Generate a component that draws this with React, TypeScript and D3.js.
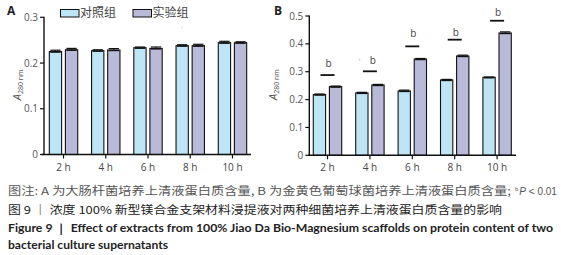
import React from "react";
import * as d3 from "d3";

const categories = ["2 h", "4 h", "6 h", "8 h", "10 h"];
const seriesNames = ["对照组", "实验组"];
const aControl = [0.225, 0.227, 0.2335, 0.238, 0.2445];
const aExp = [0.229, 0.2285, 0.232, 0.238, 0.2445];
const aControlErr = [0.003, 0.002, 0.0015, 0.002, 0.003];
const aExpErr = [0.003, 0.003, 0.003, 0.003, 0.002];
const bControl = [0.218, 0.224, 0.231, 0.2705, 0.28];
const bExp = [0.2465, 0.2525, 0.3455, 0.3565, 0.439];
const bControlErr = [0.002, 0.002, 0.003, 0.002, 0.001];
const bExpErr = [0.002, 0.002, 0.002, 0.003, 0.004];
const sigLine = [0.288, 0.3015, 0.391, 0.415, 0.483];
const sigLabel = [0.33, 0.3395, 0.438, 0.4415, 0.512];
const sigText = ["b", "b", "b", "b", "b"];
const aTicks = [0, 0.1, 0.2, 0.3];
const bTicks = [0, 0.1, 0.2, 0.3, 0.4, 0.5];

const colors = ["#bde5f6", "#b9b9d9"];
const fontSans = "'Open Sans', 'Noto Sans', sans-serif";
const fontCJK = "'Noto Sans CJK SC', sans-serif";

type PanelProps = {
  x0: number; x1: number; yTop: number; yBot: number; yMax: number;
  ticks: number[]; ctrl: number[]; exp: number[]; ctrlErr: number[]; expErr: number[];
  axisX: number; axisStart: number; axisEnd: number; labelX: number; sig?: boolean;
};

function Panel(p: PanelProps) {
  const x = d3.scaleBand<string>().domain(categories).range([p.x0, p.x1]).paddingInner(0).paddingOuter(0);
  const sub = d3.scaleBand<string>().domain(seriesNames).range([-14.2, 14.2]).paddingInner(0.236).paddingOuter(0);
  const y = d3.scaleLinear().domain([0, p.yMax]).range([p.yBot, p.yTop]);
  const fmt = (v: number) => (v === 0 ? "0" : d3.format(".1f")(v));
  const series = [
    { vals: p.ctrl, errs: p.ctrlErr },
    { vals: p.exp, errs: p.expErr },
  ];
  return (
    <g>
      {categories.map((c, i) => {
        const cx = (x(c) as number) + x.bandwidth() / 2;
        return (
          <g key={c}>
            {series.map((s, k) => {
              const bx = cx + (sub(seriesNames[k]) as number);
              const bw = sub.bandwidth();
              const top = y(s.vals[i]);
              const etop = y(s.vals[i] + s.errs[i]);
              return (
                <g key={k}>
                  <rect x={bx} y={top} width={bw} height={y(0) - top} fill={colors[k]} stroke="#111" strokeWidth={1.1} />
                  <line x1={bx + bw / 2} x2={bx + bw / 2} y1={top} y2={etop} stroke="#111" strokeWidth={1} />
                  <line x1={bx + 1} x2={bx + bw - 1} y1={etop} y2={etop} stroke="#111" strokeWidth={1.2} />
                  <line x1={bx + 1} x2={bx + bw - 1} y1={top + 0.6} y2={top + 0.6} stroke="#111" strokeWidth={1.2} />
                </g>
              );
            })}
            <line x1={cx} x2={cx} y1={y(0)} y2={y(0) + 4} stroke="#111" strokeWidth={1.2} />
            <text x={cx} y={y(0) + 16} textAnchor="middle" fontSize={10} fill="#444" fontFamily={fontSans}>{c}</text>
            {p.sig && (
              <g>
                <line x1={cx - 7} x2={cx + 7} y1={y(sigLine[i])} y2={y(sigLine[i])} stroke="#111" strokeWidth={1.8} />
                <text x={cx + (i === 1 ? 3 : 1)} y={y(sigLabel[i]) + 3.5} textAnchor="middle" fontSize={10} fill="#444" fontFamily={fontSans}>{sigText[i]}</text>
              </g>
            )}
          </g>
        );
      })}
      <line x1={p.axisStart} x2={p.axisEnd} y1={y(0)} y2={y(0)} stroke="#111" strokeWidth={1.4} />
      <line x1={p.axisX} x2={p.axisX} y1={y(p.yMax) - 0.5} y2={y(0)} stroke="#111" strokeWidth={1.4} />
      {p.ticks.map((t) => (
        <g key={t}>
          <line x1={p.axisX - 4} x2={p.axisX} y1={y(t)} y2={y(t)} stroke="#111" strokeWidth={1.2} />
          <text x={p.axisX - 6} y={y(t) + 3.5} textAnchor="end" fontSize={10} fill="#555" fontFamily={fontSans}>{fmt(t)}</text>
        </g>
      ))}
      <text transform={`translate(${p.labelX},${(p.yTop + p.yBot) / 2 - 1}) rotate(-90)`} textAnchor="middle" fill="#555" fontFamily={fontSans}>
        <tspan fontSize={11} fontStyle="italic">A</tspan>
        <tspan fontSize={7} dy={2}>280 nm</tspan>
      </text>
    </g>
  );
}

export default function App() {
  return (
    <div style={{ position: "absolute", left: 0, top: 0 }}>
      <svg width={561} height={255} style={{ display: "block", background: "#fff" }}>
        <text x={7} y={15} fontSize={12} fontWeight="bold" fill="#222" fontFamily={fontSans}>A</text>
        <text x={274} y={15} fontSize={12} fontWeight="bold" fill="#222" fontFamily={fontSans}>B</text>
        {/* legend */}
        <rect x={60.5} y={9.5} width={18.5} height={7.5} fill={colors[0]} stroke="#111" strokeWidth={1} />
        <text x={80} y={17} fontSize={12} fill="#444" fontFamily={fontCJK}>{seriesNames[0]}</text>
        <rect x={133} y={9.5} width={18.5} height={7.5} fill={colors[1]} stroke="#111" strokeWidth={1} />
        <text x={152.5} y={17} fontSize={12} fill="#444" fontFamily={fontCJK}>{seriesNames[1]}</text>
        <Panel x0={42.4} x1={253.6} yTop={17.3} yBot={154.5} yMax={0.3} ticks={aTicks}
          ctrl={aControl} exp={aExp} ctrlErr={aControlErr} expErr={aExpErr}
          axisX={44} axisStart={41.5} axisEnd={251} labelX={21} />
        <Panel x0={306.3} x1={518.3} yTop={16} yBot={155.3} yMax={0.5} ticks={bTicks}
          ctrl={bControl} exp={bExp} ctrlErr={bControlErr} expErr={bExpErr}
          axisX={309.3} axisStart={308} axisEnd={516} labelX={277} sig />
        <text x={181} y={30} fontSize={6} fill="#666">·</text>
        <text x={359} y={63} fontSize={7} fill="#666">'</text>
        {/* caption */}
        <text x={8} y={195} fontSize={11} fill="#555" fontFamily={fontCJK} textLength={503} lengthAdjust="spacingAndGlyphs">
          图注: A 为大肠杆菌培养上清液蛋白质含量, B 为金黄色葡萄球菌培养上清液蛋白质含量;
        </text>
        <text x={515} y={195} fontSize={10} fill="#555" fontFamily="'Liberation Sans', sans-serif">
          <tspan fontSize={6} dy={-4}>b</tspan>
          <tspan fontStyle="italic" dy={4} dx={1}>P</tspan>
          <tspan> &lt; 0.01</tspan>
        </text>
        <text x={8} y={214} fontSize={11} fill="#222" fontFamily={fontCJK} textLength={494} lengthAdjust="spacingAndGlyphs">
          图 9 ｜ 浓度 100% 新型镁合金支架材料浸提液对两种细菌培养上清液蛋白质含量的影响
        </text>
        <text x={8} y={232} fontSize={11} fontWeight="bold" fill="#222" fontFamily="Lato, 'Open Sans', sans-serif" textLength={545} lengthAdjust="spacingAndGlyphs">
          Figure 9 ｜ Effect of extracts from 100% Jiao Da Bio-Magnesium scaffolds on protein content of two
        </text>
        <text x={8} y={249} fontSize={11} fontWeight="bold" fill="#222" fontFamily="Lato, 'Open Sans', sans-serif" textLength={160} lengthAdjust="spacingAndGlyphs">
          bacterial culture supernatants
        </text>
      </svg>
    </div>
  );
}
